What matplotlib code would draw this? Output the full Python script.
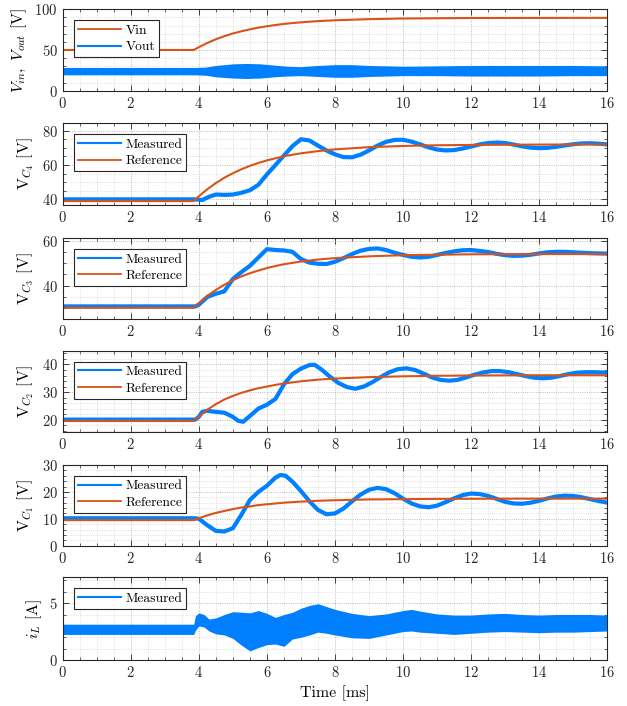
import matplotlib
matplotlib.use("Agg")
import matplotlib.pyplot as plt
from matplotlib.ticker import MultipleLocator
from matplotlib.lines import Line2D

plt.rcParams.update({
    "font.family": "cmr10",
    "mathtext.fontset": "cm",
    "axes.formatter.use_mathtext": True,
    "font.size": 10.5,
})

BLUE = "#0080FF"
ORANGE = "#D95319"
DARK = "#262626"

# ---------------- data (time in ms) ----------------
# Input voltage reference
t_vin = [0, 3.85, 4.0, 4.25, 4.5, 4.75, 5.0, 5.25, 5.5, 5.75, 6.0, 6.25, 6.5,
         6.75, 7.0, 7.5, 8.0, 9.0, 10.0, 11.0, 12.0, 14.0, 16.0]
vin = [50.0, 50.0, 53.5, 58.7, 63.2, 67.0, 70.3, 73.0, 75.4, 77.5, 79.2, 80.7,
       82.0, 83.1, 84.0, 85.5, 86.5, 87.9, 88.7, 89.0, 89.3, 89.4, 89.5]

# Output voltage ripple envelope
t_vout = [0, 3.9, 4.2, 4.5, 5.0, 5.4, 5.8, 6.2, 6.6, 7.0, 7.5, 8.0, 8.5, 9.0,
          10.0, 11.0, 12.0, 13.0, 14.0, 15.0, 16.0]
vout_lo = [19.5, 19.5, 19.0, 17.0, 15.5, 15.0, 15.5, 17.0, 18.0, 18.5, 17.5,
           16.5, 16.5, 17.5, 18.5, 18.5, 18.0, 18.0, 18.0, 18.5, 18.5]
vout_hi = [28.5, 28.5, 29.0, 31.0, 33.0, 33.5, 33.0, 31.5, 30.0, 29.5, 31.0,
           32.0, 32.0, 31.0, 30.0, 30.5, 31.0, 31.0, 31.0, 31.0, 30.5]

# Capacitor voltage references (shared time base)
t_ref = [0, 3.85, 4.0, 4.25, 4.5, 4.75, 5.0, 5.25, 5.5, 5.75, 6.0, 6.25, 6.5,
         6.75, 7.0, 7.5, 8.0, 9.0, 10.0, 11.0, 12.0, 14.0, 16.0]
vc4_ref = [39.0, 39.0, 41.8, 45.9, 49.5, 52.6, 55.2, 57.5, 59.5, 61.2, 62.7,
           63.9, 65.1, 66.0, 66.8, 68.1, 69.1, 70.4, 71.1, 71.5, 71.7, 71.9, 72.0]
vc3_ref = [30.2, 30.2, 32.3, 35.5, 38.1, 40.4, 42.4, 44.1, 45.5, 46.7, 47.8,
           48.7, 49.5, 50.1, 50.7, 51.6, 52.2, 53.0, 53.5, 53.7, 53.9, 54.0, 54.0]
vc2_ref = [19.5, 19.5, 21.0, 23.6, 25.6, 27.3, 28.6, 29.7, 30.6, 31.4, 32.0,
           32.6, 33.1, 33.5, 33.9, 34.5, 34.9, 35.4, 35.7, 35.9, 36.0, 36.1, 36.1]
vc1_ref = [9.5, 9.5, 10.2, 11.3, 12.2, 12.9, 13.6, 14.2, 14.6, 15.1, 15.4,
           15.7, 16.0, 16.2, 16.4, 16.7, 16.9, 17.2, 17.3, 17.4, 17.45, 17.5, 17.5]

# Measured capacitor voltages
t_vc4 = [0, 3.9, 4.1, 4.3, 4.5, 4.75, 5.0, 5.25, 5.5, 5.75, 6.0, 6.25, 6.5,
         6.75, 7.0, 7.25, 7.5, 7.75, 8.0, 8.25, 8.5, 8.75, 9.0, 9.25, 9.5,
         9.75, 10.0, 10.25, 10.5, 10.75, 11.0, 11.25, 11.5, 11.75, 12.0, 12.25,
         12.5, 12.75, 13.0, 13.25, 13.5, 13.75, 14.0, 14.25, 14.5, 14.75, 15.0,
         15.25, 15.5, 15.75, 16.0]
vc4_meas = [40.0, 40.0, 39.6, 41.5, 42.8, 42.6, 42.8, 43.8, 45.3, 48.5, 54.5,
            60.0, 65.5, 71.0, 75.0, 74.3, 71.3, 68.5, 66.2, 64.6, 64.5, 66.0,
            68.5, 71.3, 73.5, 74.6, 74.7, 73.6, 72.0, 70.3, 69.0, 68.5, 68.7,
            69.6, 70.8, 72.0, 72.8, 73.1, 72.8, 71.9, 70.9, 70.1, 69.8, 70.0,
            70.6, 71.4, 72.1, 72.6, 72.7, 72.4, 72.0]

t_vc3 = [0, 3.9, 4.0, 4.25, 4.5, 4.75, 5.0, 5.25, 5.5, 5.75, 6.0, 6.25, 6.5,
         6.75, 7.0, 7.25, 7.5, 7.75, 8.0, 8.25, 8.5, 8.75, 9.0, 9.25, 9.5,
         9.75, 10.0, 10.25, 10.5, 10.75, 11.0, 11.25, 11.5, 11.75, 12.0, 12.25,
         12.5, 12.75, 13.0, 13.25, 13.5, 13.75, 14.0, 14.25, 14.5, 14.75, 15.0,
         15.25, 15.5, 15.75, 16.0]
vc3_meas = [30.8, 30.8, 31.5, 35.0, 36.4, 37.5, 43.0, 46.0, 48.8, 52.5, 56.2,
            55.8, 55.6, 55.0, 51.8, 50.2, 49.7, 49.6, 50.6, 52.2, 54.0, 55.5,
            56.3, 56.5, 55.8, 54.6, 53.6, 52.8, 52.5, 52.8, 53.6, 54.5, 55.2,
            55.7, 55.8, 55.4, 54.9, 54.1, 53.5, 53.2, 53.3, 53.7, 54.3, 54.8,
            55.0, 55.0, 54.8, 54.6, 54.4, 54.3, 54.2]

t_vc2 = [0, 3.9, 4.0, 4.1, 4.25, 4.5, 4.75, 5.0, 5.15, 5.3, 5.5, 5.75, 6.0,
         6.25, 6.5, 6.75, 7.0, 7.25, 7.4, 7.6, 7.85, 8.1, 8.35, 8.6, 8.85, 9.1,
         9.35, 9.6, 9.85, 10.1, 10.35, 10.6, 10.85, 11.1, 11.35, 11.6, 11.85,
         12.1, 12.35, 12.6, 12.85, 13.1, 13.35, 13.6, 13.85, 14.1, 14.35, 14.6,
         14.85, 15.1, 15.35, 15.6, 15.85, 16.0]
vc2_meas = [20.0, 20.0, 21.0, 22.8, 23.2, 22.8, 22.5, 21.0, 19.6, 19.2, 21.3,
            24.0, 25.4, 27.5, 32.8, 36.5, 38.5, 39.8, 39.9, 38.2, 35.6, 33.3,
            31.8, 31.2, 32.0, 33.6, 35.5, 37.2, 38.3, 38.6, 38.0, 36.7, 35.3,
            34.4, 34.1, 34.4, 35.3, 36.3, 37.1, 37.6, 37.6, 37.2, 36.5, 35.8,
            35.2, 35.0, 35.2, 35.8, 36.5, 37.0, 37.2, 37.2, 37.1, 37.0]

t_vc1 = [0, 3.9, 4.0, 4.25, 4.5, 4.75, 5.0, 5.25, 5.5, 5.75, 6.0, 6.25, 6.4,
         6.55, 6.75, 7.0, 7.25, 7.5, 7.75, 8.0, 8.25, 8.5, 8.75, 9.0, 9.25,
         9.5, 9.75, 10.0, 10.25, 10.5, 10.75, 11.0, 11.25, 11.5, 11.75, 12.0,
         12.25, 12.5, 12.75, 13.0, 13.25, 13.5, 13.75, 14.0, 14.25, 14.5, 14.75,
         15.0, 15.25, 15.5, 15.75, 16.0]
vc1_meas = [10.2, 10.2, 10.0, 7.6, 5.5, 5.3, 6.5, 11.5, 17.0, 20.0, 22.3,
            25.3, 26.3, 26.0, 23.8, 20.3, 16.5, 13.3, 11.7, 12.0, 13.8, 16.5,
            19.0, 20.8, 21.5, 21.0, 19.5, 17.5, 15.7, 14.6, 14.3, 14.9, 16.2,
            17.6, 18.8, 19.4, 19.2, 18.5, 17.4, 16.3, 15.7, 15.6, 16.0, 16.7,
            17.6, 18.3, 18.6, 18.5, 18.0, 17.3, 16.6, 16.0]

# Inductor current ripple envelope
t_il = [0, 3.85, 3.9, 4.0, 4.15, 4.3, 4.5, 4.75, 5.0, 5.25, 5.5, 5.75, 6.0,
        6.25, 6.5, 6.75, 7.0, 7.25, 7.5, 7.75, 8.0, 8.5, 9.0, 9.5, 10.0, 10.25,
        10.5, 11.0, 11.5, 12.0, 12.5, 13.0, 13.5, 14.0, 14.5, 15.0, 15.5, 16.0]
il_lo = [2.25, 2.25, 2.6, 3.0, 2.9, 2.55, 2.3, 2.2, 1.9, 1.3, 0.8, 1.1, 1.35,
         1.4, 1.2, 1.85, 2.0, 2.2, 2.45, 2.35, 2.2, 1.95, 1.9, 2.2, 2.5, 2.55,
         2.45, 2.35, 2.25, 2.35, 2.45, 2.5, 2.45, 2.4, 2.45, 2.45, 2.5, 2.55]
il_hi = [3.15, 3.15, 3.9, 4.15, 4.0, 3.6, 3.7, 4.0, 4.25, 4.2, 4.15, 4.35, 4.1,
         3.75, 4.0, 4.2, 4.55, 4.8, 4.95, 4.7, 4.45, 4.1, 3.9, 4.05, 4.35, 4.45,
         4.3, 4.05, 3.95, 3.95, 4.05, 4.1, 4.0, 3.95, 4.0, 4.0, 4.0, 3.95]

# ---------------- figure ----------------
fig = plt.figure(figsize=(6.27, 7.06), dpi=100)
W, H = 627.0, 706.0
x0, x1 = 62.7, 607.3
tops = [9.3, 123.3, 238.3, 350.7, 465.0, 577.0]
bots = [90.7, 205.0, 319.0, 432.0, 545.7, 660.0]

axes = []
for tp, bt in zip(tops, bots):
    ax = fig.add_axes([x0 / W, 1 - bt / H, (x1 - x0) / W, (bt - tp) / H])
    axes.append(ax)


def style(ax, ylim, major, minor):
    ax.set_xlim(0, 16)
    ax.set_ylim(*ylim)
    ax.xaxis.set_major_locator(MultipleLocator(2))
    ax.xaxis.set_minor_locator(MultipleLocator(0.5))
    ax.yaxis.set_major_locator(MultipleLocator(major))
    ax.yaxis.set_minor_locator(MultipleLocator(minor))
    ax.grid(True, which="major", ls=":", color="#a8a8a8", lw=0.6)
    ax.grid(True, which="minor", ls=":", color="#cccccc", lw=0.5)
    ax.set_axisbelow(True)
    ax.tick_params(which="both", direction="in", top=True, right=True,
                   color=DARK, labelcolor=DARK, labelsize=10.5)
    ax.tick_params(which="major", length=4, width=0.6)
    ax.tick_params(which="minor", length=2, width=0.5)
    for s in ax.spines.values():
        s.set_color(DARK)
        s.set_linewidth(0.8)


def legend(ax, handles, labels):
    leg = ax.legend(handles, labels, loc="upper left",
                    bbox_to_anchor=(0.021, 0.865), borderaxespad=0,
                    fancybox=False, framealpha=1, edgecolor=DARK,
                    fontsize=9.7, handlelength=3.2, handletextpad=0.3,
                    borderpad=0.3, labelspacing=0.3)
    leg.get_frame().set_linewidth(0.8)


h_meas = Line2D([], [], color=BLUE, lw=1.5)
h_ref = Line2D([], [], color=ORANGE, lw=1.3)

# Panel 1: input / output voltage
ax = axes[0]
style(ax, (0, 100), 50, 10)
ax.plot(t_vin, vin, color=ORANGE, lw=1.5)
ax.fill_between(t_vout, vout_lo, vout_hi, color=BLUE, lw=0)
ax.set_ylabel(r"$V_{in},\ V_{out}$ [V]", fontsize=11.5)
legend(ax, [h_ref, h_meas], ["Vin", "Vout"])

# Panels 2-5: flying capacitor voltages
caps = [
    (t_vc4, vc4_meas, vc4_ref, (36.7, 84.3), 20, 5, r"V$_{C_4}$ [V]"),
    (t_vc3, vc3_meas, vc3_ref, (25.2, 61.0), 20, 5, r"V$_{C_3}$ [V]"),
    (t_vc2, vc2_meas, vc2_ref, (15.5, 45.0), 10, 2, r"V$_{C_2}$ [V]"),
    (t_vc1, vc1_meas, vc1_ref, (0, 30), 10, 2, r"V$_{C_1}$ [V]"),
]
for ax, (tm, vm, vr, yl, mj, mn, lab) in zip(axes[1:5], caps):
    style(ax, yl, mj, mn)
    ax.plot(tm, vm, color=BLUE, lw=3.0, solid_joinstyle="round")
    ax.plot(t_ref, vr, color=ORANGE, lw=1.5)
    ax.set_ylabel(lab, fontsize=11.5)
    legend(ax, [h_meas, h_ref], ["Measured", "Reference"])

# Panel 6: inductor current
ax = axes[5]
style(ax, (0, 7.3), 5, 1)
ax.fill_between(t_il, il_lo, il_hi, color=BLUE, lw=0)
ax.set_ylabel(r"$i_L$ [A]", fontsize=11.5)
ax.set_xlabel("Time [ms]", fontsize=11.5)
legend(ax, [h_meas], ["Measured"])

fig.savefig("out.png", dpi=100)
